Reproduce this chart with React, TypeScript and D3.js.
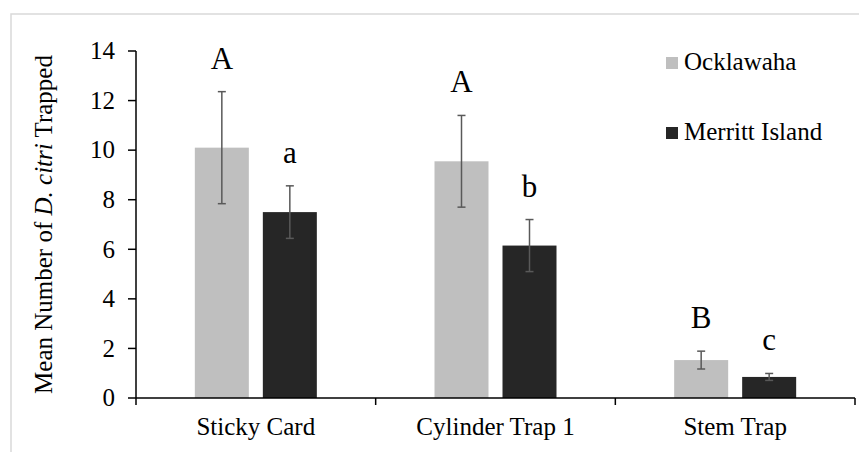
import React from "react";
import * as d3 from "d3";

const categories = ["Sticky Card", "Cylinder Trap 1", "Stem Trap"];
const seriesNames = ["Ocklawaha", "Merritt Island"];
const seriesColors = ["#bfbfbf", "#262626"];
const ocklawahaMeans = [10.1, 9.55, 1.53];
const ocklawahaErr = [2.26, 1.85, 0.36];
const merrittMeans = [7.5, 6.15, 0.85];
const merrittErr = [1.06, 1.05, 0.14];
const ocklawahaLetters = ["A", "A", "B"];
const merrittLetters = ["a", "b", "c"];
const yTicks = [0, 2, 4, 6, 8, 10, 12, 14];

const W = 859;
const H = 452;
const margin = { top: 51, right: 4, bottom: 54, left: 136 };

const App = () => {
  const x = d3.scaleBand<string>()
    .domain(categories)
    .range([margin.left, W - margin.right])
    .paddingInner(0)
    .paddingOuter(0);

  const y = d3.scaleLinear()
    .domain([0, 14])
    .range([H - margin.bottom, margin.top]);

  const barW = 54;
  const gap = 14;

  const series = [
    { name: seriesNames[0], color: seriesColors[0], means: ocklawahaMeans, err: ocklawahaErr, letters: ocklawahaLetters },
    { name: seriesNames[1], color: seriesColors[1], means: merrittMeans, err: merrittErr, letters: merrittLetters },
  ];

  const font = "'Liberation Serif', 'Times New Roman', serif";
  const y0 = y(0);

  return (
    <svg width={W} height={H} style={{ position: "absolute", left: 0, top: 0, fontFamily: font }}>
      <rect x={0} y={0} width={W} height={H} fill="#fff" />
      {/* outer frame */}
      <rect x={11} y={14} width={W} height={H} fill="none" stroke="#d9d9d9" strokeWidth={1.5} />

      {/* bars, error bars, letters */}
      {series.map((s, si) =>
        categories.map((c, ci) => {
          const cx = x(c)! + x.bandwidth() / 2;
          const bx = si === 0 ? cx - gap / 2 - barW : cx + gap / 2;
          const mid = bx + barW / 2;
          const v = s.means[ci];
          const e = s.err[ci];
          const top = y(v + e);
          const bot = y(v - e);
          return (
            <g key={`${si}-${ci}`}>
              <rect x={bx} y={y(v)} width={barW} height={y0 - y(v)} fill={s.color} />
              <g stroke="#595959" strokeWidth={1.5}>
                <line x1={mid} x2={mid} y1={top} y2={bot} />
                <line x1={mid - 4} x2={mid + 4} y1={top} y2={top} />
                <line x1={mid - 4} x2={mid + 4} y1={bot} y2={bot} />
              </g>
              <text x={mid} y={top - 23} textAnchor="middle" fontSize={31} fill="#000">
                {s.letters[ci]}
              </text>
            </g>
          );
        })
      )}

      {/* y axis */}
      <line x1={margin.left} x2={margin.left} y1={y(14)} y2={y0} stroke="#000" strokeWidth={1.5} />
      {yTicks.map((t) => (
        <g key={t}>
          <line x1={margin.left - 8} x2={margin.left} y1={y(t)} y2={y(t)} stroke="#000" strokeWidth={1.5} />
          <text x={115} y={y(t)} dy="0.33em" textAnchor="end" fontSize={25} fill="#000">
            {t}
          </text>
        </g>
      ))}

      {/* x axis */}
      <line x1={margin.left} x2={W - margin.right} y1={y0} y2={y0} stroke="#000" strokeWidth={1.5} />
      {categories.map((c) => (
        <line key={c} x1={x(c)! + x.bandwidth()} x2={x(c)! + x.bandwidth()} y1={y0} y2={y0 + 7} stroke="#000" strokeWidth={1.5} />
      ))}
      <line x1={margin.left} x2={margin.left} y1={y0} y2={y0 + 7} stroke="#000" strokeWidth={1.5} />
      {categories.map((c) => (
        <text key={c} x={x(c)! + x.bandwidth() / 2} y={435} textAnchor="middle" fontSize={25} fill="#000">
          {c}
        </text>
      ))}

      {/* y label */}
      <text transform={`translate(52, ${(y(14) + y0) / 2}) rotate(-90)`} textAnchor="middle" fontSize={25} fill="#000">
        Mean Number of <tspan fontStyle="italic">D. citri</tspan> Trapped
      </text>

      {/* legend */}
      {series.map((s, i) => (
        <g key={s.name} transform={`translate(666, ${57 + i * 70})`}>
          <rect x={0} y={0} width={12} height={12} fill={s.color} />
          <text x={18} y={13} fontSize={25} fill="#000">
            {s.name}
          </text>
        </g>
      ))}
    </svg>
  );
};

export default App;
